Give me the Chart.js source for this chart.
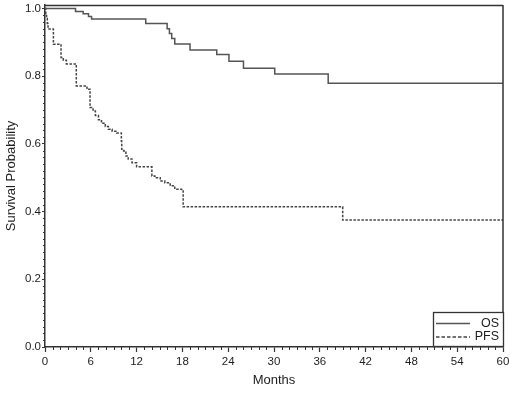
<!DOCTYPE html>
<html>
<head>
<meta charset="utf-8">
<script src="https://cdn.jsdelivr.net/npm/chart.js@4.4.1/dist/chart.umd.min.js"></script>
<style>
  html, body { margin: 0; padding: 0; background: #ffffff; }
  #wrap { width: 520px; height: 396px; }
</style>
</head>
<body>
<div id="wrap"><canvas id="c" width="520" height="396"></canvas></div>
<script>
// ---- data ----
const seriesNames = ['OS', 'PFS'];
const xTicks = [0, 6, 12, 18, 24, 30, 36, 42, 48, 54, 60];
const yTicks = [0.0, 0.2, 0.4, 0.6, 0.8, 1.0];

const osTime = [0, 4.0, 5.0, 5.7, 6.1, 13.2, 16.0, 16.3, 16.6, 17.0, 19.0, 22.5, 24.1, 26.0, 30.1, 37.1, 60];
const osSurv = [1.0, 0.991, 0.984, 0.976, 0.969, 0.955, 0.940, 0.926, 0.911, 0.895, 0.877, 0.864, 0.844, 0.823, 0.806, 0.779, 0.779];

const pfsTime = [0, 0.1, 0.2, 0.3, 0.4, 1.1, 2.1, 2.4, 2.8, 4.1, 5.5, 5.9, 6.3, 6.6, 7.0, 7.4, 7.9, 8.3, 8.8, 9.4, 10.0, 10.05, 10.3, 10.6, 10.9, 11.4, 12.0, 14.0, 14.4, 15.1, 15.7, 16.4, 17.0, 17.9, 18.1, 39.0, 60];
const pfsSurv = [1.0, 0.985, 0.970, 0.955, 0.939, 0.894, 0.855, 0.847, 0.836, 0.771, 0.761, 0.707, 0.697, 0.684, 0.671, 0.661, 0.651, 0.643, 0.637, 0.632, 0.608, 0.584, 0.579, 0.564, 0.555, 0.544, 0.532, 0.505, 0.500, 0.490, 0.485, 0.476, 0.466, 0.461, 0.414, 0.375, 0.375];

const toPts = (t, s) => t.map((v, i) => ({ x: v, y: s[i] }));

const FONT = '"Liberation Sans", Arial, Helvetica, sans-serif';
const TEXT = '#1e1e1e';
const AXIS = '#333333';

// minor ticks + frame
const framePlugin = {
  id: 'frame',
  afterDraw(chart) {
    const { ctx, chartArea: a, scales } = chart;
    ctx.save();
    ctx.strokeStyle = AXIS;
    ctx.lineWidth = 1.5;
    ctx.beginPath();
    ctx.moveTo(a.left, a.top + 0.5);
    ctx.lineTo(a.right, a.top + 0.5);
    ctx.moveTo(a.right, a.top);
    ctx.lineTo(a.right, a.bottom);
    ctx.stroke();
    // minor ticks
    ctx.lineWidth = 1;
    ctx.beginPath();
    for (let m = 0; m <= 60; m++) {
      if (m % 6 === 0) continue;
      const px = Math.round(scales.x.getPixelForValue(m)) + 0.5;
      ctx.moveTo(px, a.bottom);
      ctx.lineTo(px, a.bottom + 3);
    }
    for (let k = 0; k <= 50; k++) {
      if (k % 10 === 0) continue;
      const py = Math.round(scales.y.getPixelForValue(k * 0.02)) + 0.5;
      ctx.moveTo(a.left, py);
      ctx.lineTo(a.left - 2, py);
    }
    ctx.stroke();
    ctx.restore();
  }
};

// legend box inside plot, bottom-right
const legendPlugin = {
  id: 'boxLegend',
  afterDraw(chart) {
    const { ctx, chartArea: a } = chart;
    const ds = chart.data.datasets;
    const w = 70, h = 34;
    const x0 = a.right - w, y0 = a.bottom - h - 1;
    ctx.save();
    ctx.fillStyle = '#ffffff';
    ctx.fillRect(x0, y0, w, h);
    ctx.strokeStyle = AXIS;
    ctx.lineWidth = 1.3;
    ctx.strokeRect(x0 + 0.5, y0 + 0.5, w, h);
    ctx.font = '12.5px ' + FONT;
    ctx.textAlign = 'right';
    ctx.textBaseline = 'middle';
    ds.forEach((d, i) => {
      const yy = y0 + 11 + i * 13.5;
      ctx.strokeStyle = d.borderColor;
      ctx.lineWidth = 1.4;
      ctx.setLineDash(d.legendDash || []);
      ctx.beginPath();
      ctx.moveTo(x0 + 3, yy + 0.5);
      ctx.lineTo(x0 + 37, yy + 0.5);
      ctx.stroke();
      ctx.setLineDash([]);
      ctx.fillStyle = TEXT;
      ctx.fillText(d.label, a.right - 4, yy + 0.5);
    });
    ctx.restore();
  }
};

new Chart(document.getElementById('c'), {
  type: 'line',
  data: {
    datasets: [
      {
        label: seriesNames[0],
        data: toPts(osTime, osSurv),
        borderColor: '#555555',
        borderWidth: 1.5,
        stepped: 'before',
        pointRadius: 0,
        fill: false
      },
      {
        label: seriesNames[1],
        data: toPts(pfsTime, pfsSurv),
        borderColor: '#444444',
        borderWidth: 1.5,
        borderDash: [2.5, 1.5],
        legendDash: [3.5, 2],
        stepped: 'before',
        pointRadius: 0,
        fill: false
      }
    ]
  },
  options: {
    responsive: false,
    animation: false,
    devicePixelRatio: 1,
    layout: { padding: { left: 0, right: 17, top: 5, bottom: 0 } },
    plugins: { legend: { display: false }, tooltip: { enabled: false } },
    scales: {
      x: {
        type: 'linear',
        min: 0, max: 60,
        afterBuildTicks: s => { s.ticks = xTicks.map(v => ({ value: v })); },
        afterFit: s => { s.height = 49; s.paddingLeft = 0; s.paddingRight = 0; },
        grid: { drawOnChartArea: false, drawTicks: true, tickLength: 5, color: AXIS, tickWidth: 1.2 },
        border: { display: true, color: AXIS, width: 1.5 },
        ticks: { font: { family: FONT, size: 11.5 }, color: TEXT, padding: 3, maxRotation: 0 },
        title: { display: true, text: 'Months', font: { family: FONT, size: 13 }, color: TEXT, padding: { top: 0, bottom: 8 } }
      },
      y: {
        type: 'linear',
        min: 0, max: 1.01,
        afterBuildTicks: s => { s.ticks = yTicks.map(v => ({ value: v })); },
        afterFit: s => { s.width = 45; s.paddingTop = 0; s.paddingBottom = 0; },
        grid: { drawOnChartArea: false, drawTicks: true, tickLength: 3, color: AXIS, tickWidth: 1.2 },
        border: { display: true, color: AXIS, width: 1.5 },
        ticks: { font: { family: FONT, size: 11.5 }, color: TEXT, padding: 1, callback: v => Number(v).toFixed(1) },
        title: { display: true, text: 'Survival Probability', font: { family: FONT, size: 13 }, color: TEXT, padding: { top: 4, bottom: 0 } }
      }
    }
  },
  plugins: [framePlugin, legendPlugin]
});
</script>
</body>
</html>
